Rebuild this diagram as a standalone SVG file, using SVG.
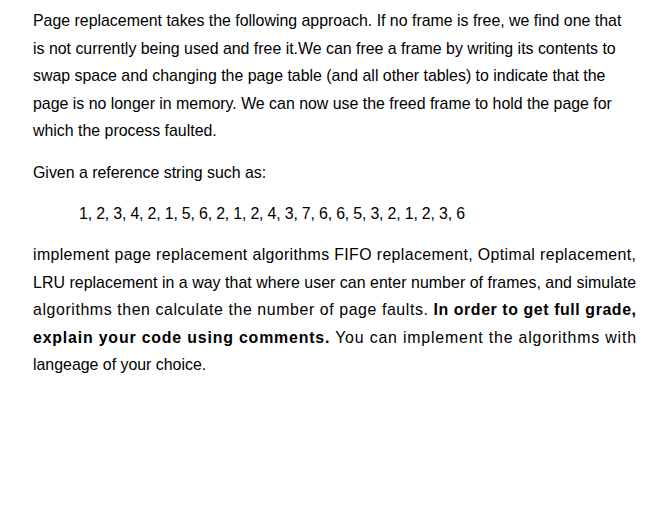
<svg xmlns="http://www.w3.org/2000/svg" width="656" height="510" viewBox="0 0 656 510">
<style>text{font-family:"Liberation Sans",Arial,sans-serif;font-size:15.9px;fill:#000}.b{font-weight:bold}</style>
<rect width="656" height="510" fill="#fff"/>
<text x="33" y="26">Page replacement takes the following approach. If no frame is free, we find one that</text>
<text x="33" y="54">is not currently being used and free it.We can free a frame by writing its contents to</text>
<text x="33" y="81">swap space and changing the page table (and all other tables) to indicate that the</text>
<text x="33" y="109">page is no longer in memory. We can now use the freed frame to hold the page for</text>
<text x="33" y="136">which the process faulted.</text>
<text x="33" y="178">Given a reference string such as:</text>
<text x="79" y="219" textLength="386" lengthAdjust="spacing">1, 2, 3, 4, 2, 1, 5, 6, 2, 1, 2, 4, 3, 7, 6, 6, 5, 3, 2, 1, 2, 3, 6</text>
<text x="33" y="260" textLength="603" lengthAdjust="spacing">implement page replacement algorithms FIFO replacement, Optimal replacement,</text>
<text x="33" y="288" textLength="603" lengthAdjust="spacing">LRU replacement in a way that where user can enter number of frames, and simulate</text>
<text x="33" y="315" textLength="603" lengthAdjust="spacing">algorithms then calculate the number of page faults. <tspan class="b">In order to get full grade,</tspan></text>
<text x="33" y="343" textLength="603" lengthAdjust="spacing"><tspan class="b">explain your code using comments.</tspan> You can implement the algorithms with</text>
<text x="33" y="370">langeage of your choice.</text>
</svg>
